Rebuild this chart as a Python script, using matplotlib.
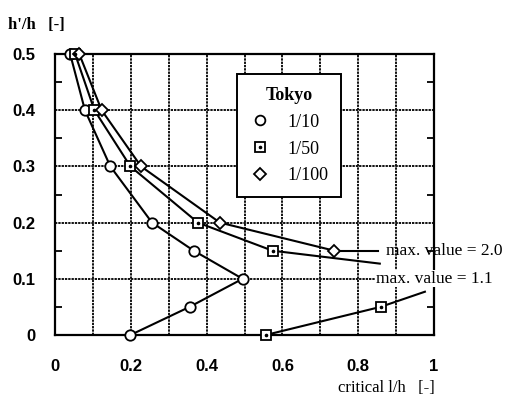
import matplotlib
matplotlib.use("Agg")
import matplotlib.pyplot as plt
from matplotlib.lines import Line2D
from matplotlib.legend_handler import HandlerTuple

# Critical l/h versus h'/h for three return periods (Tokyo)
y10 = [0.5, 0.4, 0.3, 0.2, 0.15, 0.1, 0.05, 0.0]
x10 = [0.04, 0.079, 0.146, 0.256, 0.366, 0.495, 0.355, 0.199]

y50_upper = [0.5, 0.4, 0.3, 0.2, 0.15]
x50_upper = [0.053, 0.104, 0.199, 0.377, 0.574]
x50_upper_tail = [0.574, 0.857]
y50_upper_tail = [0.15, 0.127]

y50_lower = [0.0, 0.05]
x50_lower = [0.556, 0.859]
x50_lower_tail = [0.859, 0.976]
y50_lower_tail = [0.05, 0.077]

y100 = [0.5, 0.4, 0.3, 0.2, 0.15]
x100 = [0.064, 0.123, 0.227, 0.435, 0.737]
x100_tail = [0.737, 0.852]
y100_tail = [0.15, 0.15]

series_labels = ["1/10", "1/50", "1/100"]
legend_title = "Tokyo"
xticks = [0, 0.2, 0.4, 0.6, 0.8, 1]
xtick_labels = ["0", "0.2", "0.4", "0.6", "0.8", "1"]
yticks = [0, 0.1, 0.2, 0.3, 0.4, 0.5]
ytick_labels = ["0", "0.1", "0.2", "0.3", "0.4", "0.5"]
note_upper = "max. value = 2.0"
note_lower = "max. value = 1.1"

SERIF = "Liberation Serif"
SANS = "Liberation Sans"

fig = plt.figure(figsize=(5.10, 3.96), dpi=100)
ax = fig.add_axes([55 / 510, 1 - 335 / 396, 379 / 510, 281 / 396])
ax.set_xlim(0, 1)
ax.set_ylim(0, 0.5)

# grid every 0.1 in both directions
for gx in [0.1, 0.2, 0.3, 0.4, 0.5, 0.6, 0.7, 0.8, 0.9]:
    ax.axvline(gx, color="#111111", lw=1.4, ls=(0, (1.2, 0.5)), zorder=1)
for gy in [0.1, 0.2, 0.3, 0.4]:
    ax.axhline(gy, color="#111111", lw=1.4, ls=(0, (1.2, 0.5)), zorder=1)

for s in ax.spines.values():
    s.set_linewidth(1.6)
    s.set_color("black")

ax.set_xticks(xticks)
ax.set_xticklabels(xtick_labels)
ax.set_yticks(yticks)
ax.set_yticklabels(ytick_labels)
ax.set_yticks([0.05, 0.15, 0.25, 0.35, 0.45], minor=True)
ax.tick_params(axis="both", which="major", length=0)
ax.tick_params(axis="x", which="major", pad=17)
ax.tick_params(axis="y", which="major", pad=14)
ax.tick_params(axis="y", which="minor", direction="in", length=5, width=1.3,
               left=True, right=True)
ax.tick_params(axis="x", which="minor", length=0)
for lab in ax.get_xticklabels() + ax.get_yticklabels():
    lab.set_fontfamily(SANS)
    lab.set_fontweight("bold")
    lab.set_fontsize(12)

lw = 1.5
mk = dict(markerfacecolor="white", markeredgecolor="black", markeredgewidth=1.3,
          clip_on=False, zorder=4)

# 1/10
ax.plot(x10, y10, color="black", lw=lw, marker="o", markersize=7.5, **mk)
# 1/50 (square with a centre dot)
ax.plot(x50_upper_tail, y50_upper_tail, color="black", lw=lw, zorder=3)
ax.plot(x50_upper, y50_upper, color="black", lw=lw, marker="s", markersize=7, **mk)
ax.plot(x50_lower_tail, y50_lower_tail, color="black", lw=lw, zorder=3)
ax.plot(x50_lower, y50_lower, color="black", lw=lw, marker="s", markersize=7, **mk)
ax.plot(x50_upper + x50_lower, y50_upper + y50_lower, ls="none", marker="o",
        markersize=1.6, color="black", clip_on=False, zorder=5)
# 1/100
ax.plot(x100_tail, y100_tail, color="black", lw=lw, zorder=3)
ax.plot(x100, y100, color="black", lw=lw, marker="D", markersize=6, **mk)

ax.text(x100_tail[-1] + 0.022, y100_tail[-1], note_upper, family=SERIF,
        fontsize=12.5, va="center", ha="left", clip_on=False)
ax.text(x50_upper_tail[-1] - 0.01, 0.10, note_lower, family=SERIF,
        fontsize=12.5, va="center", ha="left", clip_on=False,
        bbox=dict(facecolor="white", edgecolor="none", pad=0.5))

# legend
h10 = Line2D([], [], ls="none", marker="o", markersize=7, markerfacecolor="white",
             markeredgecolor="black", markeredgewidth=1.3)
h50 = Line2D([], [], ls="none", marker="s", markersize=6.5, markerfacecolor="white",
             markeredgecolor="black", markeredgewidth=1.3)
h50d = Line2D([], [], ls="none", marker="o", markersize=1.6, color="black")
h100 = Line2D([], [], ls="none", marker="D", markersize=6, markerfacecolor="white",
              markeredgecolor="black", markeredgewidth=1.3)
leg = ax.legend([h10, (h50, h50d), h100], series_labels,
                handler_map={tuple: HandlerTuple(ndivide=1, pad=0)},
                title=legend_title, loc="upper left",
                bbox_to_anchor=(237 / 510, 1 - 74 / 396),
                bbox_transform=fig.transFigure, borderaxespad=0,
                prop={"family": SERIF, "size": 13},
                title_fontproperties={"family": SERIF, "weight": "bold", "size": 13},
                fancybox=False, framealpha=1, edgecolor="black",
                handlelength=1.2, handletextpad=0.9, labelspacing=0.55,
                borderpad=0.7)
leg.get_frame().set_linewidth(1.4)
leg.set_zorder(10)

fig.text(435 / 510, 1 - 388 / 396, "critical l/h   [-]", family=SERIF,
         fontsize=12, ha="right", va="center")
fig.text(8 / 510, 1 - 25 / 396, "h'/h   [-]", family=SERIF, fontweight="bold",
         fontsize=12, ha="left", va="center")

fig.savefig("out.png", dpi=100, facecolor="white")
